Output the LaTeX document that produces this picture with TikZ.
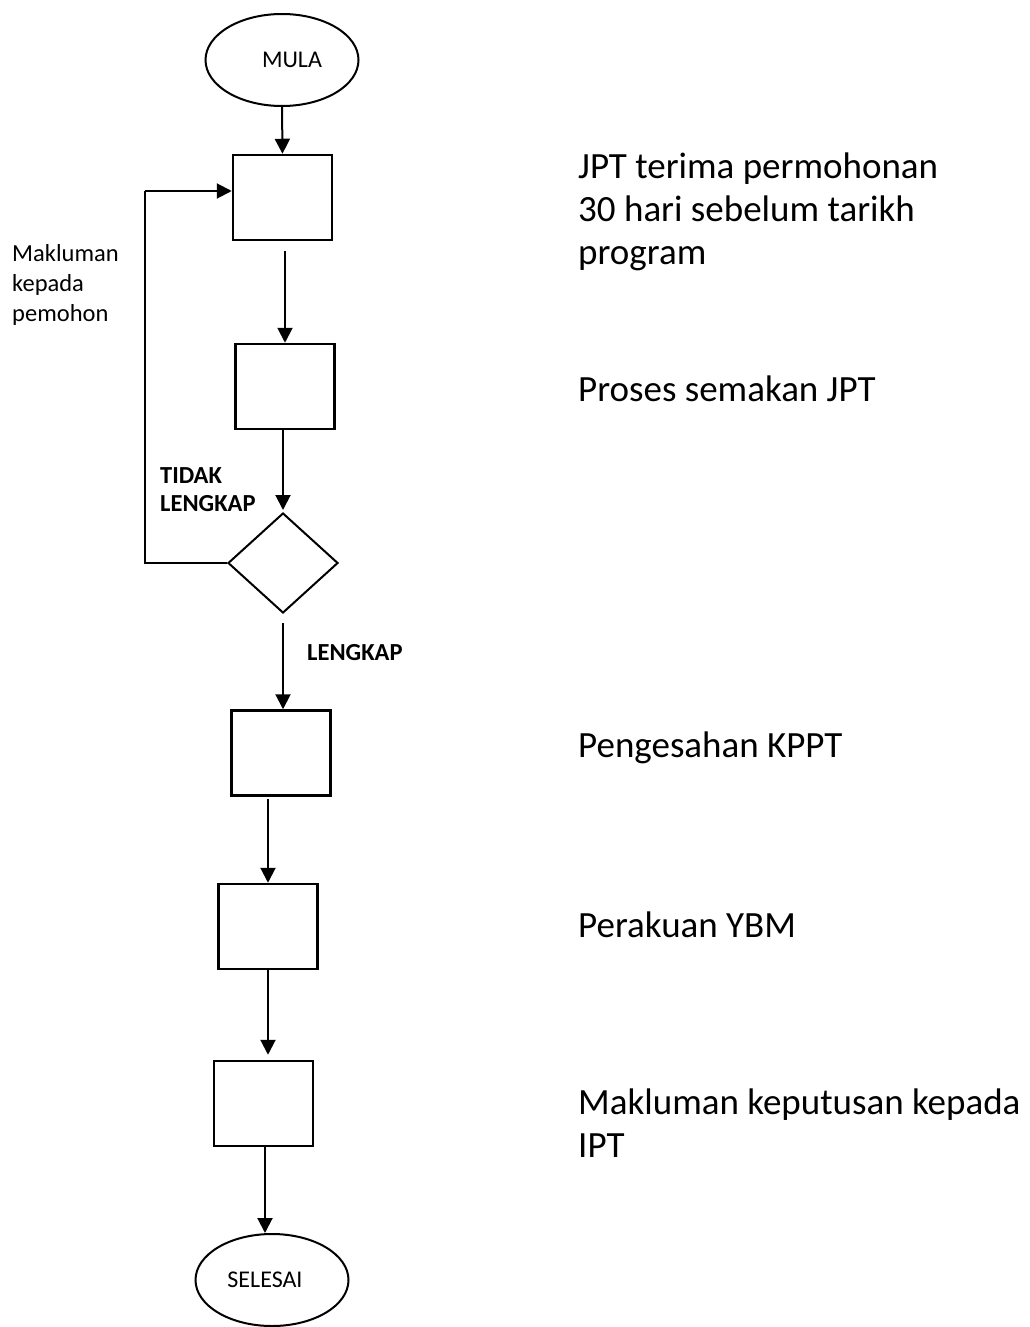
\documentclass[tikz,border=0pt]{standalone}
\usepackage{fontspec}
\setmainfont{Carlito}
\usetikzlibrary{shapes.geometric,arrows.meta}
\tikzset{
  flow/.style={line width=2pt, -{Triangle[width=15pt,length=15pt]}},
  plain/.style={line width=2pt},
  term/.style={ellipse, draw, line width=2pt, minimum width=153pt, minimum height=92pt, inner sep=0pt, font=\fontsize{24}{28}\selectfont},
  procbox/.style={rectangle, draw, line width=2.5pt, minimum width=99pt, minimum height=85pt, inner sep=0pt},
  decide/.style={diamond, draw, line width=2pt, minimum width=110pt, minimum height=100pt, inner sep=0pt},
  desc/.style={anchor=base west, inner sep=0pt, align=left, font=\fontsize{37}{43}\selectfont},
  smalllbl/.style={inner sep=0pt, align=left, font=\fontsize{24.5}{30}\selectfont},
  boldlbl/.style={inner sep=0pt, align=left, font=\bfseries\fontsize{24.5}{28}\selectfont},
}
\begin{document}
\begin{tikzpicture}[x=1pt,y=-1pt]
\useasboundingbox (0,0) rectangle (1029,1327);
% nodes
\node[term] (mula) at (282,60) {\hspace*{20pt}MULA};
\node[procbox] (b1) at (282.5,197.5) {};
\node[procbox] (b2) at (285,386.5) {};
\node[decide] (dec) at (283,563) {};
\node[procbox] (b3) at (281,753) {};
\node[procbox] (b4) at (268,926.5) {};
\node[procbox] (b5) at (263.5,1103.5) {};
\node[term] (selesai) at (272,1280) {SELESAI\hspace*{14pt}};
\coordinate (fb) at (145,191);
% connectors
\draw[flow] (mula.south) -- (b1.north);
\draw[flow] ([yshift=-10pt]b1.south -| b2) -- (b2.north);
\draw[flow] (b2.south -| dec) -- ([yshift=2pt]dec.north);
\draw[flow] ([yshift=-9pt]dec.south) -- (b3.north -| dec);
\draw[flow] ([yshift=-2pt]b3.south -| b4) -- (b4.north);
\draw[flow] (b4.south -| b4) -- ([yshift=5pt]b5.north -| b4);
\draw[flow] (b5.south -| 265,0) -- (selesai.north -| 265,0);
\draw[plain] (dec.west) -| (fb);
\draw[flow] (fb) -- (b1.west |- fb);
% labels
\node[smalllbl, anchor=north west] (mk) at (12,244) {Makluman\\kepada\\pemohon};
\node[boldlbl, anchor=north west] (tl) at (160,467) {TIDAK\\LENGKAP};
\node[boldlbl, anchor=west] (lk) at (307,653) {LENGKAP};
% descriptions
\node[desc] (d1) at (578,264) {JPT terima permohonan\\30 hari sebelum tarikh\\program};
\node[desc] (d2) at (578,401) {Proses semakan JPT};
\node[desc] (d3) at (578,757) {Pengesahan KPPT};
\node[desc] (d4) at (578,937) {Perakuan YBM};
\node[desc] (d5) at (578,1157) {Makluman keputusan kepada\\IPT};
\end{tikzpicture}
\end{document}
